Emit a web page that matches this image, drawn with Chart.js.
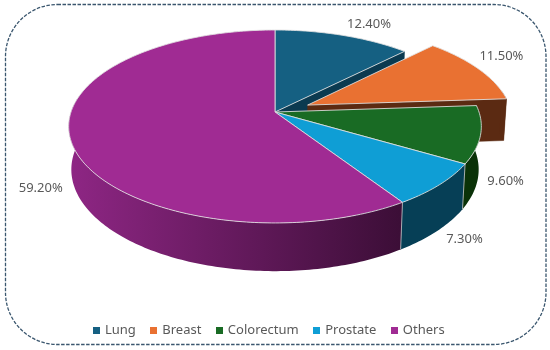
<!DOCTYPE html>
<html>
<head>
<meta charset="utf-8">
<title>Cancer share</title>
<script src="https://cdn.jsdelivr.net/npm/chart.js@4"></script>
<style>
    html, body { margin: 0; padding: 0; background: #fff; }
    svg, canvas { position: absolute; left: 0; top: 0; }
</style>
</head>
<body>
<svg width="550" height="350">
    <rect x="5.5" y="4.5" width="540.5" height="340" rx="52" ry="52" fill="none"
          stroke="#3a566e" stroke-width="1.3" stroke-dasharray="3.5 1.5"></rect>
</svg>
<canvas id="grafico" width="550" height="350"></canvas>
<script>
var categorias = ["Lung", "Breast", "Colorectum", "Prostate", "Others"];
var valores = [12.4, 11.5, 9.6, 7.3, 59.2];
var colores = ["#156082", "#E97132", "#196B24", "#0F9ED5", "#A02B93"];
var coloresLado = ["#0b3a50", "#5b2a12", "#0a3208", "#063f56", "#5a1853"];

// Camera for the tilted disc: unit disc -> screen, with a bit of perspective
var cam = { x: 275, y: 112, rx: 204, ry: 94.3, k: 0.15, depth: 43, c: 0.0128 };
var separada = 1;        // index of the pulled out slice
var separacion = 0.178;  // in disc radii
var silueta = 81.4;      // the rim is seen from here round to 360 - silueta

// Label offset from the rim point in the middle of each slice
var offsetEtiqueta = [[26, -11], [23, -13], [25, 47], [25, 55], [-30, 48]];

function proyecta(u, v, z) {
    var s = 1 / (1 - cam.k * v + cam.c * z);
    return { x: cam.x + cam.rx * u * s, y: cam.y + cam.ry * v * s + cam.depth * z * s };
}

// angle in degrees, clockwise from twelve o'clock
function punto(grados, radio, z, dx, dy) {
    var a = grados * Math.PI / 180;
    return proyecta(radio * Math.sin(a) + dx, -radio * Math.cos(a) + dy, z);
}

function grados(angulo) {
    return angulo * 180 / Math.PI + 90;
}

// small square for the legend, wider than the space the legend keeps for it
function cuadro(color) {
    var c = document.createElement("canvas");
    c.width = 7;
    c.height = 7;
    var g = c.getContext("2d");
    g.fillStyle = color;
    g.fillRect(0, 0, 7, 7);
    return c;
}

var pie3d = {
    id: "pie3d",
    beforeDatasetsDraw: function (chart) {
        var ctx = chart.ctx;
        var arcos = chart.getDatasetMeta(0).data;
        var borde = "rgba(226,226,226,0.85)";
        ctx.save();
        ctx.lineJoin = "round";

        arcos.forEach(function (arco, i) {
            var ini = grados(arco.startAngle);
            var fin = grados(arco.endAngle);
            var dx = 0, dy = 0;
            if (i == separada) {
                var medio = (ini + fin) / 2 * Math.PI / 180;
                dx = separacion * Math.sin(medio);
                dy = -separacion * Math.cos(medio);
            }

            // flat side along the end edge, when it looks towards us
            if (Math.sin(fin * Math.PI / 180) > 0.01) {
                var a = proyecta(dx, dy, 0), b = proyecta(dx, dy, 1);
                var c = punto(fin, 1, 1, dx, dy), d = punto(fin, 1, 0, dx, dy);
                ctx.beginPath();
                ctx.moveTo(a.x, a.y);
                ctx.lineTo(b.x, b.y);
                ctx.lineTo(c.x, c.y);
                ctx.lineTo(d.x, d.y);
                ctx.closePath();
                ctx.fillStyle = coloresLado[i];
                ctx.fill();
                ctx.strokeStyle = coloresLado[i];
                ctx.lineWidth = 0.5;
                ctx.stroke();
            }

            // rim wall
            var desde = Math.max(ini, silueta), hasta = Math.min(fin, 360 - silueta);
            if (hasta > desde) {
                var g, p;
                ctx.beginPath();
                for (g = desde; g <= hasta; g += 1) {
                    p = punto(g, 1, 0, dx, dy);
                    ctx.lineTo(p.x, p.y);
                }
                p = punto(hasta, 1, 0, dx, dy);
                ctx.lineTo(p.x, p.y);
                for (g = hasta; g >= desde; g -= 1) {
                    p = punto(g, 1, 1, dx, dy);
                    ctx.lineTo(p.x, p.y);
                }
                p = punto(desde, 1, 1, dx, dy);
                ctx.lineTo(p.x, p.y);
                ctx.closePath();
                if (i == 4) {
                    var grad = ctx.createLinearGradient(70, 0, 400, 0);
                    grad.addColorStop(0, "#8e2684");
                    grad.addColorStop(1, "#3c0e37");
                    ctx.fillStyle = grad;
                } else {
                    ctx.fillStyle = coloresLado[i];
                }
                ctx.fill();

                // thin line where two walls meet
                if (ini > silueta && ini < 360 - silueta) {
                    var e = punto(ini, 1, 0, dx, dy), f = punto(ini, 1, 1, dx, dy);
                    ctx.beginPath();
                    ctx.moveTo(e.x, e.y);
                    ctx.lineTo(f.x, f.y);
                    ctx.strokeStyle = "rgba(200,200,200,0.8)";
                    ctx.lineWidth = 1;
                    ctx.stroke();
                }
            }

            // top face
            var centro = proyecta(dx, dy, 0);
            ctx.beginPath();
            ctx.moveTo(centro.x, centro.y);
            for (var t = ini; t < fin; t += 1) {
                var q = punto(t, 1, 0, dx, dy);
                ctx.lineTo(q.x, q.y);
            }
            var ult = punto(fin, 1, 0, dx, dy);
            ctx.lineTo(ult.x, ult.y);
            ctx.closePath();
            ctx.fillStyle = colores[i];
            ctx.fill();
            ctx.strokeStyle = borde;
            ctx.lineWidth = 1;
            ctx.stroke();
        });

        // value labels
        ctx.font = "13px 'Noto Sans'";
        ctx.fillStyle = "#595959";
        ctx.textAlign = "center";
        ctx.textBaseline = "middle";
        arcos.forEach(function (arco, i) {
            var medio = (grados(arco.startAngle) + grados(arco.endAngle)) / 2;
            var dx = 0, dy = 0;
            if (i == separada) {
                dx = separacion * Math.sin(medio * Math.PI / 180);
                dy = -separacion * Math.cos(medio * Math.PI / 180);
            }
            var p = punto(medio, 1, 0, dx, dy);
            ctx.fillText(valores[i].toFixed(2) + "%", p.x + offsetEtiqueta[i][0], p.y + offsetEtiqueta[i][1]);
        });
        ctx.restore();
        return false;
    }
};

var ctx = document.getElementById("grafico").getContext("2d");
var miGrafico = new Chart(ctx, {
    type: "pie",
    data: {
        labels: categorias,
        datasets: [
            {
                data: valores,
                backgroundColor: colores,
            },
        ],
    },
    options: {
        responsive: false,
        animation: false,
        layout: { padding: { bottom: 3, right: 11 } },
        plugins: {
            tooltip: { enabled: false },
            legend: {
                position: "bottom",
                labels: {
                    color: "#595959",
                    font: { family: "'Noto Sans'", size: 13 },
                    usePointStyle: true,
                    boxHeight: 8,
                    pointStyleWidth: 4,
                    padding: 16,
                    generateLabels: function (chart) {
                        return Chart.overrides.pie.plugins.legend.labels.generateLabels(chart).map(function (item, i) {
                            item.pointStyle = cuadro(colores[i]);
                            return item;
                        });
                    },
                },
            },
        },
    },
    plugins: [pie3d],
});
</script>
</body>
</html>
